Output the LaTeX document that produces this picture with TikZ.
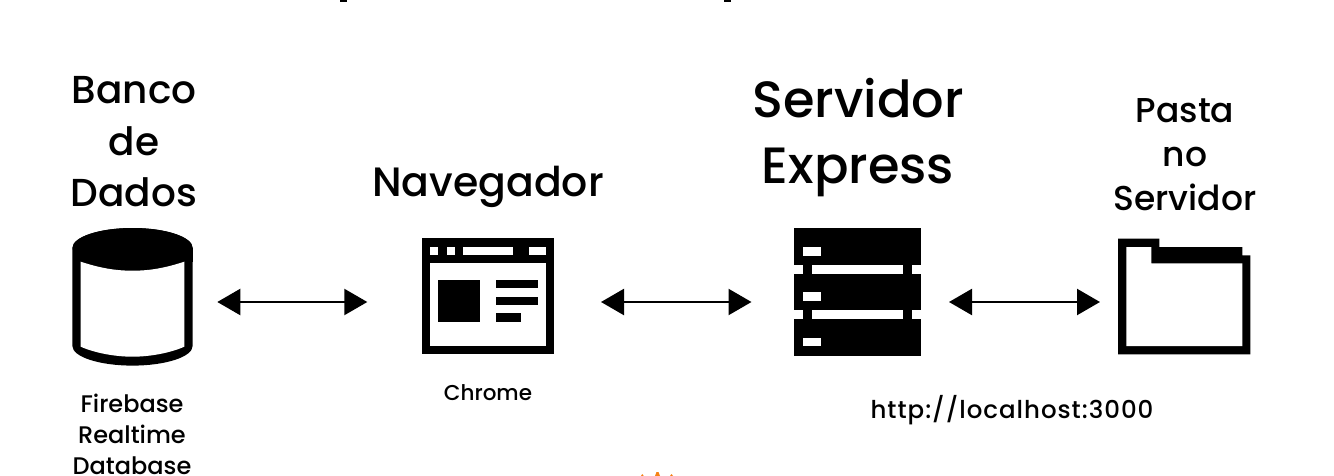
\documentclass[tikz,border=0pt]{standalone}
\usepackage{fontspec}
\setmainfont{Poppins Medium}
\newfontface\spacedface{Poppins Medium}[LetterSpace=4]
\usetikzlibrary{arrows.meta}
\definecolor{flame}{RGB}{245,130,20}
\tikzset{
  lbl/.style={align=center,inner sep=0pt,text=black},
  huge lbl/.style={lbl,font=\fontsize{51}{66}\selectfont},
  big lbl/.style={lbl,font=\fontsize{39}{51.5}\selectfont},
  nav lbl/.style={lbl,font=\fontsize{41}{50}\selectfont},
  mid lbl/.style={lbl,font=\fontsize{34.5}{44}\selectfont},
  small lbl/.style={lbl,font=\fontsize{24}{31}\selectfont},
  chrome lbl/.style={lbl,font=\fontsize{21.5}{31}\selectfont},
  url lbl/.style={lbl,font=\spacedface\fontsize{24.5}{31}\selectfont},
  link/.style={line width=2.3pt,{Triangle[length=23pt,width=26pt]}-{Triangle[length=23pt,width=26pt]}},
  ink/.style={fill=black,draw=none},
  hole/.style={fill=white,draw=none},
  iconbox/.style={draw=none,inner sep=0pt,outer sep=0pt}
}
\begin{document}
\begin{tikzpicture}[x=1pt,y=-1pt]
\useasboundingbox (0,0) rectangle (1334,476);
\fill[white] (0,0) rectangle (1334,476);

% clipped remnants at the page edges
\fill[ink] (340,0) rectangle (347,2);
\fill[ink] (724,0) rectangle (731,2);
\fill[flame] (641,476) -- (642.3,474) -- (643.7,476) -- cycle;
\fill[flame] (655,476) -- (656.5,472) -- (658.5,472) -- (660,476) -- cycle;
\fill[flame] (670,476) -- (671.5,474) -- (673,476) -- cycle;

% database
\fill[ink] (72.5,248) arc[x radius=60.1,y radius=20,start angle=180,end angle=360]
  -- (192.6,346) arc[x radius=60.1,y radius=19.6,start angle=0,end angle=180] -- cycle;
\fill[ink] (132.5,248) ellipse[x radius=60.1,y radius=20];
\fill[ink] (72.5,248) -- (192.6,248) -- (192.6,262) -- (72.5,262) -- cycle;
\fill[hole] (80.7,261.7) .. controls (100,268) and (115,270.7) .. (132.5,270.7)
  .. controls (150,270.7) and (165,268) .. (184.3,261.7)
  -- (184.3,346.7) .. controls (170,353) and (150,356.7) .. (132.5,356.7)
  .. controls (115,356.7) and (95,353) .. (80.7,346.7) -- cycle;
\node[iconbox,minimum width=120pt,minimum height=138pt] (db) at (132.5,297) {};

% browser
\fill[ink] (421.7,238.3) rectangle (554.3,354.3);
\fill[hole] (430,263.3) rectangle (546,346.3);
\fill[hole] (430,246.7) rectangle (438.3,255);
\fill[hole] (446.7,246.7) rectangle (455,255);
\fill[hole] (463.3,246.7) rectangle (512.7,255);
\fill[hole] (529.3,246.7) rectangle (546,255);
\fill[ink] (438.3,280) rectangle (480,321.7);
\fill[ink] (496.3,280) rectangle (537.7,288.3);
\fill[ink] (496.3,296.7) rectangle (537.7,305);
\fill[ink] (496.3,313.3) rectangle (521,321.7);
\node[iconbox,minimum width=132.6pt,minimum height=116pt] (browser) at (488,296.3) {};

% server
\fill[ink] (794,228.3) rectangle (921,355.7);
\fill[hole] (794,265) rectangle (803.3,274);
\fill[hole] (812.3,265) rectangle (903.3,274);
\fill[hole] (912.3,265) rectangle (921,274);
\fill[hole] (794,310.3) rectangle (803.3,319.3);
\fill[hole] (812.3,310.3) rectangle (903.3,319.3);
\fill[hole] (912.3,310.3) rectangle (921,319.3);
\fill[hole] (803.3,247) rectangle (821.3,255.7);
\fill[hole] (803.3,292.3) rectangle (821.3,301);
\fill[hole] (803.3,337.7) rectangle (821.3,346.3);
\node[iconbox,minimum width=127pt,minimum height=127.4pt] (server) at (857.5,292) {};

% folder
\fill[ink] (1118,238.7) -- (1159.3,238.7) -- (1159.3,247) -- (1242.3,247) -- (1242.3,255.3)
  -- (1250.3,255.3) -- (1250.3,354.3) -- (1118,354.3) -- cycle;
\fill[hole] (1126.3,247) -- (1151.3,247) -- (1151.3,263.3) -- (1242.3,263.3)
  -- (1242.3,346) -- (1126.3,346) -- cycle;
\node[iconbox,minimum width=132.3pt,minimum height=115.6pt] (folder) at (1184.2,296.5) {};

% connectors
\coordinate (dbR) at (217.3,302);
\coordinate (brL) at (367.3,302);
\coordinate (brR) at (601,302);
\coordinate (svL) at (751.5,302);
\coordinate (svR) at (949,302);
\coordinate (foL) at (1100,302);
\draw[link] (dbR) -- (brL);
\draw[link] (brR) -- (svL);
\draw[link] (svR) -- (foL);

% labels
\node[big lbl] (tdb) at (134,142) {Banco\\de\\Dados};
\node[nav lbl] (tbr) at (488,187) {Navegador};
\node[huge lbl] (tsv) at (858,138) {Servidor\\Express};
\node[mid lbl] (tfo) at (1185,155) {Pasta\\no\\Servidor};
\node[small lbl] (sdb) at (132,434.5) {Firebase\\Realtime\\Database};
\node[chrome lbl] (sbr) at (488,393) {Chrome};
\node[url lbl] (ssv) at (1012,410) {http://localhost:3000};
\end{tikzpicture}
\end{document}
